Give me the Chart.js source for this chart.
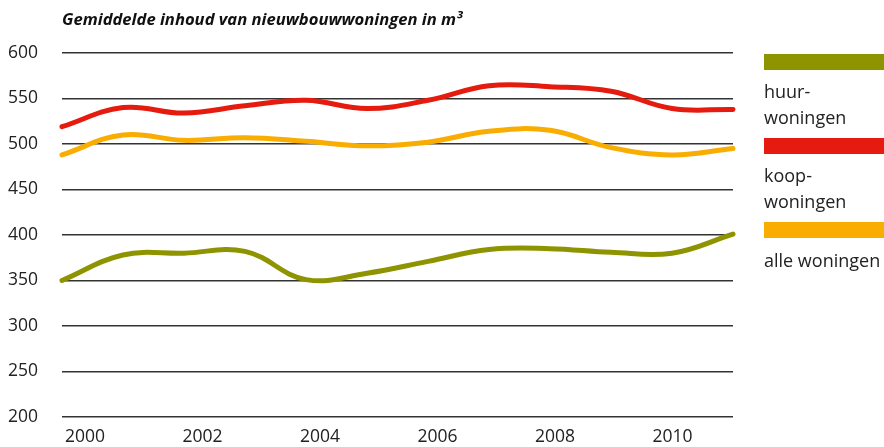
<!DOCTYPE html>
<html>
<head>
<meta charset="utf-8">
<script src="https://cdn.jsdelivr.net/npm/chart.js@4/dist/chart.umd.min.js"></script>
<style>
  html, body { margin: 0; padding: 0; background: #fff; }
  #wrap { position: relative; width: 884px; height: 447px; overflow: hidden; }
  #c { position: absolute; left: 0; top: 0; }
  #title { position: absolute; left: 62px; top: 7px; font-family: "Open Sans", sans-serif; font-weight: 700; font-style: italic; font-size: 16.6px; color: #111; white-space: nowrap; }
  .lg-bar { position: absolute; left: 764px; width: 120px; height: 16px; }
  .lg-txt { position: absolute; left: 764px; font-family: "Open Sans", sans-serif; font-size: 18px; line-height: 26px; color: #222; }
</style>
</head>
<body>
<div id="wrap">
  <canvas id="c" width="884" height="447"></canvas>
  <div id="title">Gemiddelde inhoud van nieuwbouwwoningen in m³</div>
  <div class="lg-bar" style="top:54px;background:#8e9400"></div>
  <div class="lg-txt" style="top:78px">huur-<br>woningen</div>
  <div class="lg-bar" style="top:138px;background:#e41b0e"></div>
  <div class="lg-txt" style="top:162px">koop-<br>woningen</div>
  <div class="lg-bar" style="top:222px;background:#f8ad00"></div>
  <div class="lg-txt" style="top:247px">alle woningen</div>
</div>
<script>
const years = [2000, 2001, 2002, 2003, 2004, 2005, 2006, 2007, 2008, 2009, 2010, 2011];
const huurwoningen = [350, 378, 380, 382, 351, 358, 371, 384, 385, 381, 380, 401];
const koopwoningen = [519, 540, 534, 542, 548, 539, 548, 564, 563, 558, 539, 538];
const alleWoningen = [488, 510, 504, 507, 503, 498, 502, 514, 515, 496, 488, 495];
const xTickLabels = [2000, 2002, 2004, 2006, 2008, 2010];
const yTicks = [200, 250, 300, 350, 400, 450, 500, 550, 600];

const toPts = arr => arr.map((v, i) => ({ x: years[i], y: v }));
const font = { family: "'Open Sans', sans-serif", size: 17.5 };

new Chart(document.getElementById('c'), {
  type: 'line',
  data: {
    datasets: [
      { label: 'alle woningen', data: toPts(alleWoningen), borderColor: '#f8ad00', borderWidth: 5, tension: 0.4, pointRadius: 0, borderCapStyle: 'round', fill: false },
      { label: 'koopwoningen', data: toPts(koopwoningen), borderColor: '#e41b0e', borderWidth: 5, tension: 0.4, pointRadius: 0, borderCapStyle: 'round', fill: false },
      { label: 'huurwoningen', data: toPts(huurwoningen), borderColor: '#8e9400', borderWidth: 5, tension: 0.4, pointRadius: 0, borderCapStyle: 'round', fill: false }
    ]
  },
  options: {
    responsive: false,
    animation: false,
    clip: false,
    layout: { padding: { top: 53, right: 151, left: 0, bottom: 0 } },
    plugins: { legend: { display: false }, tooltip: { enabled: false }, title: { display: false } },
    scales: {
      x: {
        type: 'linear', min: years[0], max: years[years.length - 1],
        display: false
      },
      x2: {
        type: 'linear', position: 'bottom',
        min: 1999.61, max: 2011.03,
        afterBuildTicks: s => { s.ticks = xTickLabels.map(v => ({ value: v })); },
        afterFit: s => { s.height = 30; },
        grid: { display: false, drawTicks: false },
        border: { display: false },
        ticks: { font, color: '#222', padding: 10, maxRotation: 0, autoSkip: false, callback: v => String(v) }
      },
      y: {
        min: 200, max: 600,
        afterBuildTicks: s => { s.ticks = yTicks.map(v => ({ value: v })); },
        afterFit: s => { s.width = 62; s.paddingTop = 0; s.paddingBottom = 0; },
        grid: { color: '#333', lineWidth: 1.5, drawTicks: false },
        border: { display: false },
        ticks: { font, color: '#222', padding: 24, callback: v => String(v) }
      }
    }
  }
});
</script>
</body>
</html>
